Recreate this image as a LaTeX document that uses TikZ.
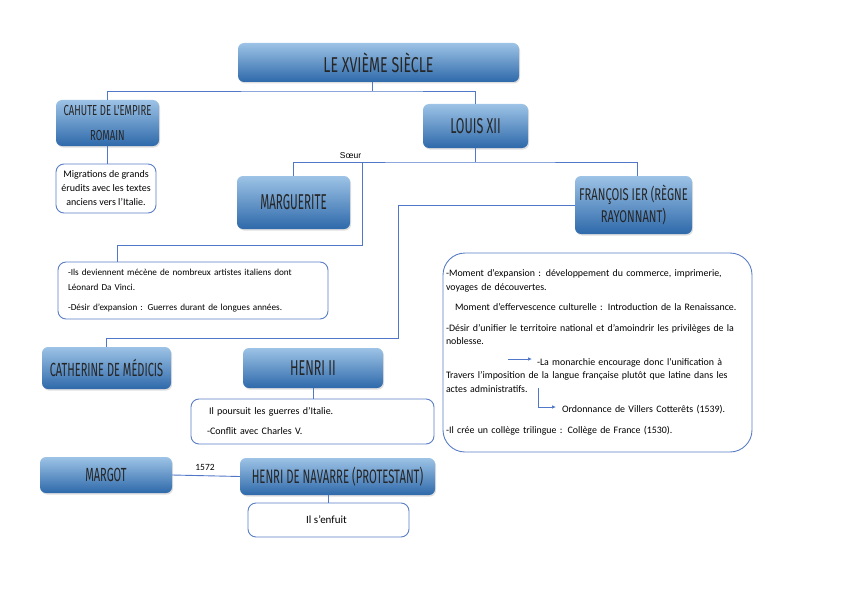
\documentclass[tikz,border=0pt]{standalone}
\usepackage{fontspec}
\setmainfont{Carlito}
\newfontfamily\hdfont[FakeStretch=0.58]{Fira Sans}
\newfontfamily\hdfontw[FakeStretch=0.66]{Fira Sans}
\newfontfamily\hdfontn[FakeStretch=0.54]{Fira Sans}
\newfontfamily\lblfont{Liberation Sans}
\usetikzlibrary{shadows,arrows.meta}
\definecolor{boxtop}{HTML}{9DC3E6}
\definecolor{boxbot}{HTML}{2E69AA}
\definecolor{lnblue}{HTML}{5077C8}
\definecolor{bord}{HTML}{5A7EC6}
\begin{document}
\begin{tikzpicture}[x=1pt,y=-1pt,
  head/.style={rounded corners=6pt, top color=boxtop, bottom color=boxbot, draw=none,
    align=center, inner sep=2pt, text=black!85,
    drop shadow={shadow xshift=1pt, shadow yshift=-1.5pt, opacity=0.25}},
  txtbox/.style={draw=bord, line width=0.9pt, rounded corners=8pt, fill=white,
    align=left, inner sep=0pt, font=\fontsize{10}{14}\selectfont},
  conn/.style={draw=lnblue, line width=0.9pt},
  tip/.style={-{Latex[length=4pt,width=3.5pt]}},
]
\useasboundingbox (0,0) rectangle (848,599);

% heading boxes
\node[head, minimum width=281pt, minimum height=39pt, font=\hdfontw\fontsize{21.5}{24}\selectfont] (title) at (378.5,62.5) {LE XVIÈME SIÈCLE};
\node[head, minimum width=103pt, minimum height=46pt, font=\hdfontw\fontsize{14.5}{25}\selectfont] (cahute) at (107.5,123) {CAHUTE DE L'EMPIRE\\ROMAIN};
\node[head, minimum width=105pt, minimum height=44pt, font=\hdfont\fontsize{21.5}{24}\selectfont] (louis) at (475.5,126) {LOUIS XII};
\node[head, minimum width=113pt, minimum height=53pt, font=\hdfontn\fontsize{21.5}{24}\selectfont] (marg) at (293.5,202.5) {MARGUERITE};
\node[head, minimum width=117pt, minimum height=58pt, font=\hdfontw\fontsize{17}{22}\selectfont] (fran) at (633.5,205) {FRANÇOIS IER (RÈGNE\\RAYONNANT)};
\node[head, minimum width=129pt, minimum height=42pt, font=\hdfont\fontsize{19}{22}\selectfont] (cath) at (106.5,368) {CATHERINE DE MÉDICIS};
\node[head, minimum width=140pt, minimum height=40pt, font=\hdfont\fontsize{21.5}{24}\selectfont] (henri) at (313,368) {HENRI II};
\node[head, minimum width=132pt, minimum height=36pt, font=\hdfont\fontsize{19}{22}\selectfont] (margot) at (106,475) {MARGOT};
\node[head, minimum width=195pt, minimum height=37pt, font=\hdfont\fontsize{19.5}{22}\selectfont] (nav) at (337.5,476.5) {HENRI DE NAVARRE (PROTESTANT)};

% text boxes
\node[txtbox, align=center, minimum width=100pt, minimum height=49pt] (migr) at (106,188.5)
  {Migrations de grands\\érudits avec les textes\\anciens vers l'Italie.};
\node[txtbox, text width=250pt, minimum width=270pt, minimum height=57pt, font=\fontsize{9.2}{15}\selectfont] (ils) at (193,290.5)
  {-Ils deviennent mécène de nombreux artistes italiens dont\\Léonard Da Vinci.\\[5pt]-Désir d'expansion : Guerres durant de longues années.};
\node[txtbox, rounded corners=22pt, text width=303pt, minimum width=309pt, minimum height=199pt, font=\fontsize{9.9}{13.5}\selectfont] (right) at (597.5,352.5)
  {-Moment d'expansion : développement du commerce, imprimerie,\\
   voyages de découvertes.\\[7pt]
   \hspace*{9pt}Moment d'effervescence culturelle : Introduction de la Renaissance.\\[7pt]
   -Désir d'unifier le territoire national et d'amoindrir les privilèges de la\\
   noblesse.\\[7pt]
   \hspace*{91pt}-La monarchie encourage donc l'unification à\\
   Travers l'imposition de la langue française plutôt que latine dans les\\
   actes administratifs.\\[7pt]
   \hspace*{116pt}Ordonnance de Villers Cotterêts (1539).\\[7pt]
   -Il crée un collège trilingue : Collège de France (1530).};
\node[txtbox, text width=211pt, minimum width=243pt, minimum height=45pt, font=\fontsize{10}{20}\selectfont] (h2t) at (312.5,421.5)
  {\hspace*{2pt}Il poursuit les guerres d'Italie.\\-Conflit avec Charles V.};
\node[txtbox, align=center, minimum width=161pt, minimum height=34pt, font=\fontsize{11}{12}\selectfont] (enf) at (328.5,520)
  {\hspace*{-4pt}Il s'enfuit};

% labels
\node[font=\lblfont\fontsize{8.5}{10}\selectfont, inner sep=0pt] (soeur) at (350.5,156) {Sœur};
\node[font=\fontsize{9.5}{11}\selectfont, inner sep=0pt] (y1572) at (205,467) {1572};

% connectors
\coordinate (j1) at (372,91);
\draw[conn] (title.south -| j1) -- (j1);
\draw[conn] (cahute.north) |- (j1) -| (louis.north);
\draw[conn] (cahute.south) -- (cahute.south |- migr.north);

\coordinate (j2) at (475,162);
\draw[conn] (louis.south -| j2) -- (j2);
\draw[conn] (marg.north) |- (j2) -| ([xshift=4pt]fran.north);

\coordinate (s1) at (362,162);
\coordinate (s2) at (117,245);
\draw[conn] (s1) |- (s2) -- (s2 |- ils.north);

\coordinate (c1) at (398,338);
\draw[conn] (fran.west) -| (c1) -| (cath.north);

\draw[conn] (henri.south) -- (henri.south |- h2t.north);
\draw[conn] (margot.east) -- (nav.west);
\draw[conn] (enf.north) -- (enf.north |- nav.south);

% arrows inside the right box
\coordinate (a1) at (508,359);
\coordinate (a2) at (532,359);
\draw[conn, line width=0.7pt, tip] (a1) -- (a2);
\coordinate (b1) at (538,388);
\coordinate (b2) at (556,407);
\draw[conn, line width=0.7pt, tip] (b1) |- (b2);
\end{tikzpicture}
\end{document}
